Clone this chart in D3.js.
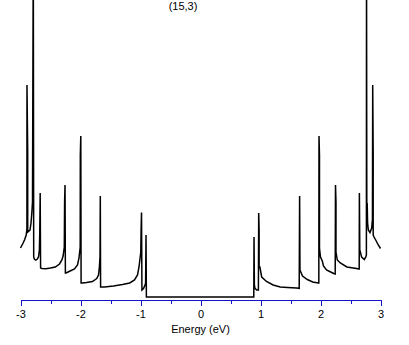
<!DOCTYPE html>
<html>
<head>
<meta charset="utf-8">
<script src="https://cdn.jsdelivr.net/npm/d3@7"></script>
<style>
  html, body { margin: 0; padding: 0; background: #fff; }
  svg { display: block; }
  text { font-family: "Liberation Sans", Arial, sans-serif; font-size: 11px; fill: #000; }
</style>
</head>
<body>
<div class="dos"></div>
<script>
(function () {
  'use strict';

  var title = "(15,3)";
  var xLabel = "Energy (eV)";

  // energy (eV) and density of states (arb.)
  var energy = [
    -3.00, -2.96, -2.93, -2.905, -2.893, -2.892, -2.880, -2.880, -2.842, -2.825, -2.81, -2.80,
    -2.787, -2.78, -2.77, -2.745, -2.72, -2.70, -2.685, -2.678, -2.672, -2.665,
    -2.64, -2.58, -2.50, -2.42, -2.35, -2.31, -2.29, -2.27, -2.265, -2.258, -2.252,
    -2.24, -2.19, -2.10, -2.05, -2.025, -2.005, -2.003, -1.995, -1.99,
    -1.97, -1.90, -1.80, -1.73, -1.70, -1.685, -1.675, -1.67, -1.665,
    -1.60, -1.45, -1.30, -1.18, -1.10, -1.05, -1.025, -0.995, -0.99, -0.983, -0.976,
    -0.95, -0.925, -0.915, -0.908, -0.902,
    0.888, 0.892, 0.898, 0.908, 0.937, 0.965, 0.970, 0.977, 0.977,
    0.99, 1.02, 1.10, 1.21, 1.33, 1.45, 1.60, 1.645, 1.652, 1.658,
    1.70, 1.78, 1.87, 1.965, 1.972, 1.975, 1.983, 1.983,
    2.00, 2.03, 2.05, 2.10, 2.17, 2.22, 2.245, 2.250, 2.258, 2.258,
    2.28, 2.33, 2.44, 2.60, 2.640, 2.645, 2.648, 2.655,
    2.685, 2.73, 2.755, 2.765, 2.767, 2.772, 2.778, 2.785, 2.797, 2.825, 2.853, 2.866,
    2.870, 2.878, 2.878, 2.892, 2.92, 2.963, 3.00
  ];
  var dos = [
    0.49, 0.535, 0.575, 0.62, 0.68, 2.12, 1.45, 0.65, 0.67, 0.74, 0.85, 0.95,
    3.50, 0.40, 0.38, 0.37, 0.38, 0.40, 0.47, 0.69, 1.04, 0.29,
    0.285, 0.283, 0.29, 0.30, 0.33, 0.37, 0.41, 0.50, 0.95, 1.12, 0.24,
    0.24, 0.255, 0.28, 0.32, 0.39, 0.50, 1.42, 1.61, 0.14,
    0.14, 0.145, 0.155, 0.185, 0.22, 0.30, 0.40, 1.01, 0.10,
    0.10, 0.11, 0.125, 0.14, 0.17, 0.22, 0.30, 0.45, 0.67, 0.845, 0.07,
    0.085, 0.12, 0.14, 0.62, 0.00,
    0.00, 0.60, 0.12, 0.087, 0.07, 0.07, 0.84, 0.67, 0.30,
    0.30, 0.20, 0.155, 0.12, 0.10, 0.095, 0.09, 0.087, 1.01, 0.27,
    0.21, 0.175, 0.15, 0.14, 0.14, 1.61, 1.42, 0.49,
    0.40, 0.36, 0.31, 0.27, 0.25, 0.235, 0.23, 1.12, 0.95, 0.45,
    0.37, 0.34, 0.30, 0.285, 0.28, 0.28, 1.04, 0.47,
    0.40, 0.375, 0.40, 0.42, 3.50, 0.80, 0.94, 0.74, 0.67, 0.645, 0.69, 0.78,
    2.12, 1.45, 0.62, 0.60, 0.57, 0.52, 0.485
  ];

  var majorTicks = [-3, -2, -1, 0, 1, 2, 3];
  var majorLabels = ["-3", "-2", "-1", "0", "1", "2", "3"];
  var minorTicks = [-2.5, -1.5, -0.5, 0.5, 1.5, 2.5];

  var w = 409;
  var h = 345;
  var axisY = 300;

  var svg = d3.select(".dos").append("svg").attr("width", w).attr("height", h);

  var x = d3.scaleLinear().domain([-3, 3]).range([20.5, 380.5]);
  var y = d3.scaleLinear().domain([0, 2.97]).range([297, 0]);

  svg.append("clipPath").attr("id", "plotClip")
    .append("rect").attr("x", 0).attr("y", 0).attr("width", w).attr("height", axisY - 1);

  var line = d3.line()
    .x(function(i) { return x(energy[i]); })
    .y(function(i) { return y(dos[i]); });

  svg.append("path")
    .datum(d3.range(energy.length))
    .attr("clip-path", "url(#plotClip)")
    .attr("d", line)
    .style("fill", "none")
    .style("stroke", "#000")
    .style("stroke-width", 1.5)
    .style("stroke-linejoin", "miter");

  var axisColor = "#1414c8";

  var minorAxis = d3.axisBottom(x).tickValues(minorTicks).tickSize(4).tickSizeOuter(0).tickFormat("");
  var majorAxis = d3.axisBottom(x).tickValues(majorTicks).tickSize(6).tickSizeOuter(0).tickPadding(4)
    .tickFormat(function(d, i) { return majorLabels[i]; });

  var g1 = svg.append("g").attr("transform", "translate(0," + axisY + ")").call(minorAxis);
  var g2 = svg.append("g").attr("transform", "translate(0," + axisY + ")").call(majorAxis);
  [g1, g2].forEach(function(g) {
    g.selectAll("path, line").style("stroke", axisColor).style("stroke-width", 1).attr("shape-rendering", "crispEdges");
    g.selectAll("text").style("fill", "#000").style("font-size", "11px")
      .style("font-family", '"Liberation Sans", Arial, sans-serif');
  });

  svg.append("text").attr("x", 200.5).attr("y", 333).attr("text-anchor", "middle").text(xLabel);
  svg.append("text").attr("x", 183).attr("y", 10).attr("text-anchor", "middle").text(title);
})();
</script>
</body>
</html>
